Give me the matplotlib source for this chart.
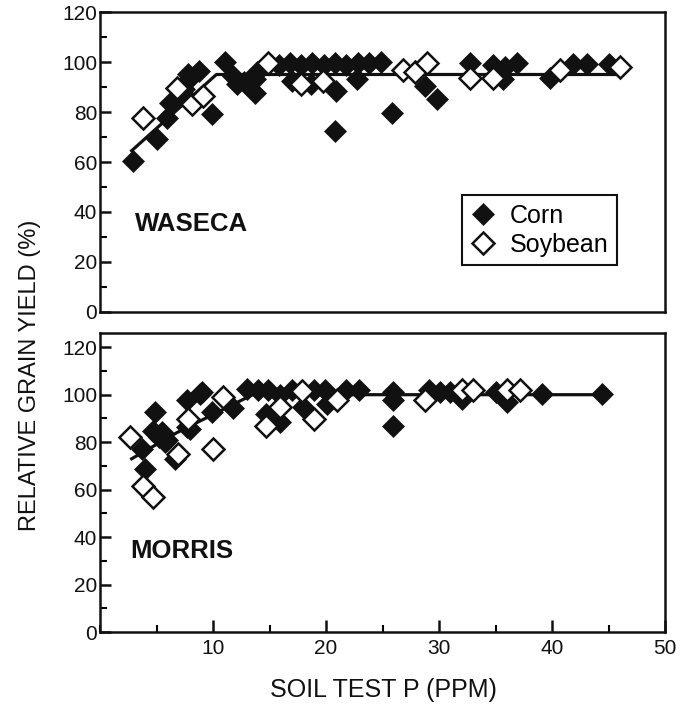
import numpy as np
import matplotlib
matplotlib.use("Agg")
import matplotlib.pyplot as plt
from matplotlib.ticker import MultipleLocator

plt.rcParams['font.family'] = ['Liberation Sans', 'DejaVu Sans']

# Waseca
waseca_corn_x = [2.9, 5.0, 5.9, 6.2, 7.1, 7.4, 7.8, 8.0, 8.8, 9.9, 11.1, 11.8, 12.1, 12.7,
                 13.7, 13.7, 13.9, 15.8, 16.8, 17.8, 18.8, 19.8, 20.8, 21.8, 22.8, 23.8,
                 24.9, 17.0, 18.7, 20.9, 22.7, 20.8, 25.8, 28.8, 29.8, 32.7, 34.8, 35.8,
                 35.7, 36.9, 39.8, 41.9, 43.1, 45.0]
waseca_corn_y = [60.4, 69.0, 77.6, 83.6, 86.4, 89.0, 95.0, 93.6, 96.4, 79.2, 100.0, 94.4, 91.2, 92.0,
                 87.7, 93.0, 96.0, 99.0, 99.5, 99.0, 99.5, 99.0, 99.5, 99.0, 99.5, 99.5,
                 100.0, 92.4, 91.0, 88.4, 93.0, 72.4, 79.7, 90.6, 85.3, 99.5, 99.0, 98.0,
                 93.0, 99.5, 93.8, 99.3, 99.3, 99.3]
waseca_soy_x = [3.8, 6.8, 8.1, 9.1, 14.9, 17.8, 19.7, 26.8, 27.9, 28.9, 32.7, 34.8, 40.7, 46.0]
waseca_soy_y = [77.6, 89.6, 83.2, 86.4, 99.7, 91.0, 92.4, 97.0, 96.0, 99.6, 93.8, 93.6, 97.0, 98.0]
waseca_fit_x = [2.8, 10.3, 45.8]
waseca_fit_y = [64.5, 95.0, 95.0]

# Morris
morris_corn_x = [3.7, 4.0, 4.9, 4.7, 5.2, 5.5, 5.75, 5.9, 6.6, 7.7, 7.7, 8.0, 8.85, 9.0, 9.9,
                 11.8, 13.0, 14.0, 14.9, 15.9, 14.7, 15.9, 17.0, 18.0, 18.9, 19.9, 20.1,
                 21.8, 22.9, 25.96, 25.96, 25.96, 29.1, 30.1, 31.0, 32.0, 35.0, 36.0,
                 39.1, 44.4]
morris_corn_y = [77.2, 68.5, 92.7, 84.9, 82.0, 84.2, 80.0, 80.7, 73.0, 86.3, 97.6, 85.6, 100.4, 101.0, 92.5,
                 94.5, 102.5, 102.0, 101.8, 100.0, 92.0, 88.4, 101.8, 94.8, 101.8, 101.8, 96.2,
                 101.8, 101.8, 101.1, 97.6, 87.0, 101.8, 101.0, 101.0, 98.3, 101.0, 96.9,
                 100.4, 100.4]
morris_soy_x = [2.65, 3.8, 4.7, 6.9, 7.8, 10.0, 10.9, 14.7, 15.9, 17.9, 18.9, 21.0, 28.8,
                32.0, 33.0, 36.0, 37.2]
morris_soy_y = [82.1, 61.7, 56.8, 75.1, 89.9, 77.2, 99.0, 87.0, 94.8, 101.5, 89.9, 97.6, 97.6,
                101.8, 101.8, 101.8, 101.8]
morris_fit_x = [2.8, 6.8, 13.5, 44.8]
morris_fit_y = [73.0, 84.0, 100.0, 100.0]

W, H = 691, 704
fig = plt.figure(figsize=(W / 100, H / 100), dpi=100)
left, width = 100 / W, 565 / W
ax1 = fig.add_axes([left, 1 - 312 / H, width, 300 / H])
ax2 = fig.add_axes([left, 1 - 632 / H, width, 299 / H])

dark = '#111111'
mk = dict(marker='D', ms=11, ls='none')


def style(ax, top):
    ax.set_xlim(0, 50)
    ax.set_ylim(0, top)
    ax.yaxis.set_minor_locator(MultipleLocator(10))
    ax.set_yticks([0, 20, 40, 60, 80, 100, 120])
    for s in ax.spines.values():
        s.set_linewidth(1.8)
        s.set_color(dark)
    ax.tick_params(axis='y', which='major', direction='in', length=8, width=1.8,
                   labelsize=15, pad=2, colors=dark)
    ax.tick_params(axis='y', which='minor', direction='in', length=5, width=1.5)


panels = [
    (ax1, 120, waseca_corn_x, waseca_corn_y, waseca_soy_x, waseca_soy_y,
     waseca_fit_x, waseca_fit_y, 'WASECA', 3.1, 35),
    (ax2, 126, morris_corn_x, morris_corn_y, morris_soy_x, morris_soy_y,
     morris_fit_x, morris_fit_y, 'MORRIS', 2.7, 34),
]
for ax, top, cx, cy, sx, sy, fx, fy, name, tx, ty in panels:
    style(ax, top)
    ax.plot(fx, fy, color=dark, lw=2.3, zorder=2)
    ax.plot(cx, cy, mfc=dark, mec=dark, mew=0.5, zorder=3, label='Corn', **mk)
    ax.plot(sx, sy, mfc='white', mec=dark, mew=1.8, zorder=4, label='Soybean', **mk)
    ax.text(tx, ty, name, fontsize=18.5, fontweight='bold', color=dark, va='center')

ax1.tick_params(axis='x', which='both', bottom=False, labelbottom=False)
ax2.set_xticks([10, 20, 30, 40, 50])
ax2.xaxis.set_minor_locator(MultipleLocator(5))
ax2.tick_params(axis='x', which='major', direction='in', length=9, width=1.8,
                labelsize=15, pad=5, colors=dark)
ax2.tick_params(axis='x', which='minor', direction='in', length=5, width=1.5)

# legend box in the top panel
leg = ax1.legend(loc='upper left', bbox_to_anchor=(0.641, 0.39), fontsize=18,
                 frameon=True, fancybox=False, edgecolor=dark, framealpha=1,
                 handlelength=1.0, handletextpad=0.55, borderpad=0.35, labelspacing=0.2,
                 borderaxespad=0, numpoints=1)
leg.get_frame().set_linewidth(1.5)

fig.text(30 / W, 1 - 375 / H, 'RELATIVE GRAIN YIELD (%)', rotation=90, fontsize=17,
         ha='center', va='center', color=dark)
fig.text(383 / W, 1 - 690 / H, 'SOIL TEST P (PPM)', fontsize=18, ha='center',
         va='center', color=dark)

fig.savefig('out.png', dpi=100)
